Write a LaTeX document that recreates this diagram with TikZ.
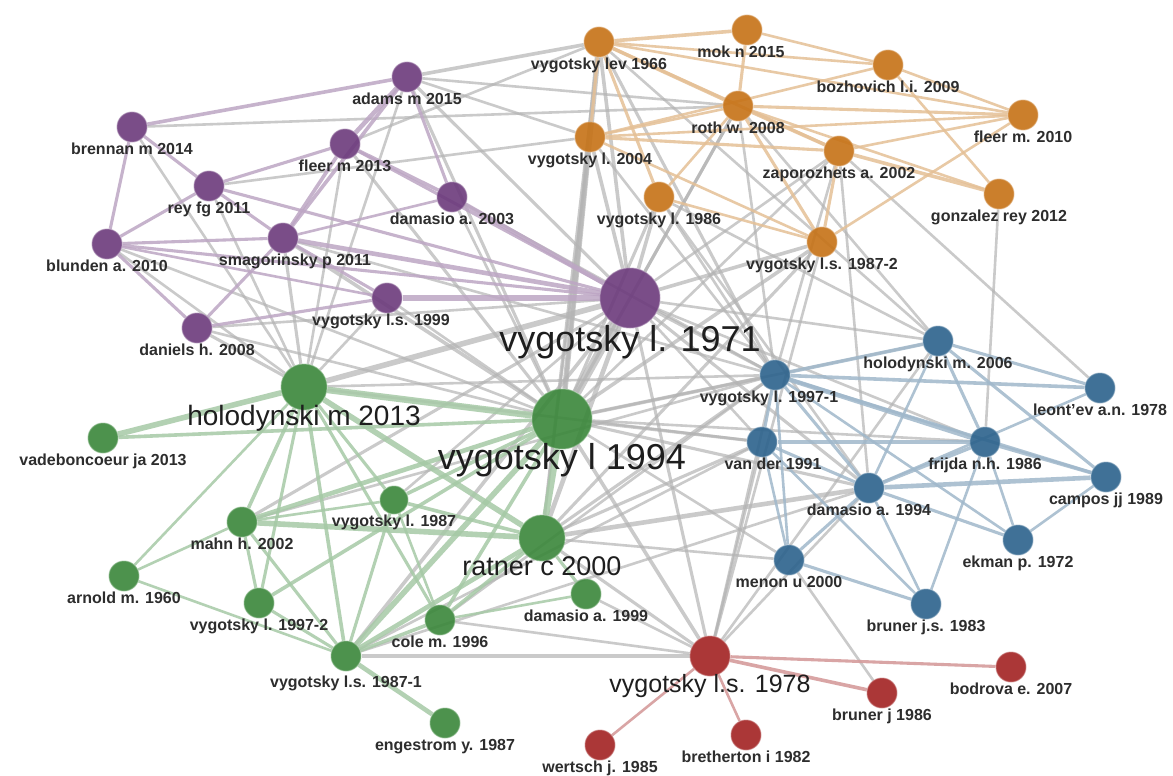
\documentclass[tikz,border=0pt]{standalone}
\usepackage{fontspec}
\setmainfont{Liberation Sans}
\usetikzlibrary{backgrounds}

\definecolor{cpurple}{RGB}{108,58,124}
\definecolor{corange}{RGB}{198,114,22}
\definecolor{cblue}{RGB}{44,98,140}
\definecolor{cgreen}{RGB}{58,135,58}
\definecolor{cred}{RGB}{162,34,34}
\definecolor{edgegrey}{RGB}{180,180,180}
\definecolor{labtext}{RGB}{45,45,45}
\definecolor{bigtext}{RGB}{30,30,30}

\begin{document}
\begin{tikzpicture}[x=1pt, y=-1pt]
  \tikzset{
    cite/.style={circle, inner sep=0pt, minimum size=30pt, fill=#1, fill opacity=.9,
      draw=#1!60!white, draw opacity=.6, line width=1pt},
    lbl/.style={font=\fontsize{16}{16}\selectfont\bfseries, text=labtext, inner sep=0pt,
      text height=11.5pt, text depth=3.5pt, label distance=0pt},
    biglbl/.style={font=\fontsize{#1}{#1}\selectfont, text=bigtext, inner sep=0pt},
    gedge/.style={draw=edgegrey, draw opacity=.7},
    pedge/.style={draw=cpurple!45!white, draw opacity=.85},
    oedge/.style={draw=corange!45!white, draw opacity=.85},
    bedge/.style={draw=cblue!45!white, draw opacity=.85},
    gnedge/.style={draw=cgreen!45!white, draw opacity=.85},
    redge/.style={draw=cred!45!white, draw opacity=.9}
  }
  \useasboundingbox (0,0) rectangle (1173,776);

  % purple cluster
  \node[cite=cpurple, label={[lbl]below:adams m 2015}] (adams) at (407,77) {};
  \node[cite=cpurple, label={[lbl]below:brennan m 2014}] (brennan) at (132,127) {};
  \node[cite=cpurple, label={[lbl]below:fleer m 2013}] (fleerA) at (345,144) {};
  \node[cite=cpurple, label={[lbl]below:rey fg 2011}] (rey) at (209,186) {};
  \node[cite=cpurple, label={[lbl]below:damasio a. 2003}] (damaC) at (452,197) {};
  \node[cite=cpurple, label={[lbl]below:blunden a. 2010}] (blunden) at (107,244) {};
  \node[cite=cpurple, label={[lbl, xshift=12pt]below:smagorinsky p 2011}] (smago) at (283,238) {};
  \node[cite=cpurple, label={[lbl, xshift=-6pt]below:vygotsky l.s. 1999}] (vyLSa) at (387,298) {};
  \node[cite=cpurple, label={[lbl]below:daniels h. 2008}] (daniels) at (197,328) {};
  \node[cite=cpurple, minimum size=60pt, label={[biglbl=36, label distance=-3pt]below:vygotsky l. 1971}] (vy71) at (630,298) {};

  % orange cluster
  \node[cite=corange, label={[lbl]below:vygotsky lev 1966}] (lev66) at (599,42) {};
  \node[cite=corange, label={[lbl, xshift=-6pt]below:mok n 2015}] (mok) at (747,30) {};
  \node[cite=corange, label={[lbl]below:bozhovich l.i. 2009}] (bozho) at (888,65) {};
  \node[cite=corange, label={[lbl]below:roth w. 2008}] (roth) at (738,106) {};
  \node[cite=corange, label={[lbl]below:fleer m. 2010}] (fleerB) at (1023,115) {};
  \node[cite=corange, label={[lbl]below:vygotsky l. 2004}] (vy04) at (590,137) {};
  \node[cite=corange, label={[lbl]below:zaporozhets a. 2002}] (zapo) at (839,151) {};
  \node[cite=corange, label={[lbl]below:vygotsky l. 1986}] (vy86) at (659,197) {};
  \node[cite=corange, label={[lbl]below:gonzalez rey 2012}] (gonzalez) at (999,194) {};
  \node[cite=corange, label={[lbl]below:vygotsky l.s. 1987-2}] (vy87b) at (822,242) {};

  % blue cluster
  \node[cite=cblue, label={[lbl]below:holodynski m. 2006}] (holo06) at (938,341) {};
  \node[cite=cblue, label={[lbl, xshift=-6pt]below:vygotsky l. 1997-1}] (vy97a) at (775,375) {};
  \node[cite=cblue, label={[lbl]below:leont'ev a.n. 1978}] (leont) at (1100,388) {};
  \node[cite=cblue, label={[lbl, xshift=11pt]below:van der 1991}] (vander) at (762,442) {};
  \node[cite=cblue, label={[lbl]below:frijda n.h. 1986}] (frijda) at (985,442) {};
  \node[cite=cblue, label={[lbl]below:campos jj 1989}] (campos) at (1106,477) {};
  \node[cite=cblue, label={[lbl]below:damasio a. 1994}] (dama94) at (869,488) {};
  \node[cite=cblue, label={[lbl]below:ekman p. 1972}] (ekman) at (1018,540) {};
  \node[cite=cblue, label={[lbl]below:menon u 2000}] (menon) at (789,560) {};
  \node[cite=cblue, label={[lbl]below:bruner j.s. 1983}] (brunerJS) at (926,604) {};

  % green cluster
  \node[cite=cgreen, minimum size=46pt, label={[biglbl=28, label distance=-5pt]below:holodynski m 2013}] (holo13) at (304,387) {};
  \node[cite=cgreen, label={[lbl]below:vadeboncoeur ja 2013}] (vade) at (103,438) {};
  \node[cite=cgreen, minimum size=60pt, label={[biglbl=36, label distance=-6pt]below:vygotsky l 1994}] (vy94) at (562,419) {};
  \node[cite=cgreen, minimum size=28pt, label={[lbl]below:vygotsky l. 1987}] (vy87) at (394,500) {};
  \node[cite=cgreen, label={[lbl]below:mahn h. 2002}] (mahn) at (242,522) {};
  \node[cite=cgreen, minimum size=46pt, label={[biglbl=27, label distance=-5pt]below:ratner c 2000}] (ratner) at (542,538) {};
  \node[cite=cgreen, label={[lbl]below:arnold m. 1960}] (arnold) at (124,576) {};
  \node[cite=cgreen, label={[lbl]below:damasio a. 1999}] (dama99) at (586,594) {};
  \node[cite=cgreen, label={[lbl]below:vygotsky l. 1997-2}] (vy97b) at (259,603) {};
  \node[cite=cgreen, label={[lbl]below:cole m. 1996}] (cole) at (440,620) {};
  \node[cite=cgreen, label={[lbl, label distance=4pt]below:vygotsky l.s. 1987-1}] (vy87a) at (346,656) {};
  \node[cite=cgreen, label={[lbl]below:engestrom y. 1987}] (enges) at (445,723) {};

  % red cluster
  \node[cite=cred, minimum size=40pt, label={[biglbl=25, label distance=-2pt]below:vygotsky l.s. 1978}] (vy78) at (710,656) {};
  \node[cite=cred, label={[lbl]below:bodrova e. 2007}] (bodrova) at (1011,667) {};
  \node[cite=cred, label={[lbl]below:bruner j 1986}] (brunerJ) at (882,693) {};
  \node[cite=cred, label={[lbl]below:bretherton i 1982}] (brether) at (746,735) {};
  \node[cite=cred, label={[lbl]below:wertsch j. 1985}] (wertsch) at (600,745) {};

  \begin{scope}[on background layer]
    \fill[white] (0,0) rectangle (1173,776);
    % links between clusters
    \foreach \a/\b/\w in {vy71/vy94/8, vy71/holo13/5, vy71/ratner/4, vy71/lev66/3, vy71/vy04/3,
        vy71/roth/2.5, vy71/vy86/3, vy71/vy87b/3, vy71/vy97a/2.5, vy71/holo06/2, vy71/vander/2,
        vy71/dama94/2.5, vy71/vy78/2.5, vy71/vy87a/3, vy71/mahn/2.5, vy71/daniels/2, vy71/adams/2.5,
        vy71/zapo/2, vy71/frijda/2, vy71/vy87/2,
        vy94/lev66/5, vy94/roth/2.5, vy94/vy97a/3, vy94/vander/2.5, vy94/dama94/2.5, vy94/vy78/3,
        vy94/menon/2, vy94/frijda/2, vy94/smago/3, vy94/vy04/3, vy94/zapo/2, vy94/daniels/2,
        vy94/fleerA/2.5, vy94/adams/2.5, vy94/vy87b/3, vy94/holo06/2, vy94/vy86/2.5, vy94/damaC/2,
        vy94/blunden/2, vy94/vyLSa/2,
        ratner/dama94/4, ratner/vy97a/2.5, ratner/vy78/2.5, ratner/vander/2.5, ratner/lev66/2.5,
        ratner/vy87b/2.5, ratner/menon/2, ratner/vy04/2,
        holo13/vy97a/2, holo13/smago/2.5, holo13/blunden/2, holo13/daniels/2.5, holo13/rey/2,
        holo13/fleerA/2, holo13/adams/2, holo13/vander/2, holo13/brennan/2, holo13/vyLSa/2,
        vy87a/vy78/4, cole/vy78/2, dama99/vy78/2, vy78/holo06/2, vy78/vy97a/2, vy78/vy87b/2,
        vy78/dama94/2, vy78/vander/2,
        holo06/vy86/2, holo06/lev66/2, holo06/roth/2, vy97a/lev66/2.5, vy97a/roth/2, vy97a/zapo/2,
        vy97a/vy86/2, vy97a/vy04/2, frijda/gonzalez/2, leont/zapo/2, dama94/zapo/2, dama94/vy86/2,
        menon/brunerJ/2, fleerA/lev66/2, adams/lev66/3, adams/roth/2, adams/vy04/2, rey/vy04/2,
        brennan/roth/2, smago/vy97a/2, damaC/vy97a/2, mahn/vy97a/2, vy87a/vander/2,
        vy87a/dama94/2, cole/vy97a/2}
      \draw[gedge, line width={(\w+0.6)*1pt}] (\a) -- (\b);
    % purple links
    \foreach \a/\b/\w in {brennan/adams/3, brennan/rey/2.5, brennan/blunden/2.5, adams/fleerA/4,
        adams/smago/3, adams/damaC/2.5, fleerA/rey/2.5, fleerA/smago/3, fleerA/damaC/3,
        fleerA/vy71/2.5, rey/blunden/2.5, rey/smago/2.5, rey/vy71/2.5, blunden/smago/2.5,
        blunden/daniels/2.5, blunden/vy71/2.5, smago/vy71/4, smago/daniels/2.5, smago/damaC/2,
        vyLSa/vy71/5, daniels/vyLSa/2.5, damaC/vy71/4, smago/vyLSa/2.5, blunden/vyLSa/2}
      \draw[pedge, line width={(\w+0.6)*1pt}] (\a) -- (\b);
    % orange links
    \foreach \a/\b/\w in {lev66/mok/3, lev66/roth/3, lev66/vy04/2.5, lev66/vy86/2.5, lev66/zapo/2.5,
        lev66/bozho/2, lev66/fleerB/2, mok/roth/2.5, mok/bozho/2, roth/zapo/3, roth/fleerB/2.5,
        roth/gonzalez/2, roth/vy87b/2.5, roth/vy04/2, bozho/fleerB/2, bozho/gonzalez/2,
        bozho/vy04/2, zapo/fleerB/2, zapo/gonzalez/3, zapo/vy04/2.5, zapo/vy87b/2.5,
        vy04/vy87b/2, vy86/vy87b/2, vy86/roth/2, fleerB/vy87b/2, vy04/fleerB/2}
      \draw[oedge, line width={(\w+0.6)*1pt}] (\a) -- (\b);
    % blue links
    \foreach \a/\b/\w in {holo06/vy97a/3, holo06/leont/2.5, holo06/frijda/2.5, holo06/campos/2.5,
        holo06/dama94/2, vy97a/leont/3, vy97a/frijda/4, vy97a/campos/2.5, vy97a/vander/2.5,
        vy97a/dama94/2.5, vy97a/menon/2, vander/frijda/2.5, vander/dama94/2.5, vander/menon/2,
        vander/brunerJS/2, frijda/campos/3, frijda/dama94/3, frijda/ekman/2, frijda/brunerJS/2,
        leont/dama94/2, dama94/campos/4, dama94/ekman/2.5, dama94/menon/2.5, dama94/brunerJS/2,
        ekman/campos/2, menon/brunerJS/2.5, vy97a/ekman/2}
      \draw[bedge, line width={(\w+0.6)*1pt}] (\a) -- (\b);
    % green links
    \foreach \a/\b/\w in {holo13/vade/5, holo13/vy94/6, holo13/ratner/5, holo13/mahn/3,
        holo13/vy87/2.5, holo13/vy97b/2.5, holo13/vy87a/3, holo13/cole/2.5, holo13/arnold/2,
        vade/vy94/3, vy94/ratner/6, vy94/mahn/4, vy94/vy87/3, vy94/vy97b/3, vy94/vy87a/5,
        vy94/cole/3, ratner/mahn/5, ratner/vy87a/4, ratner/cole/3, ratner/dama99/2.5,
        ratner/vy87/3, mahn/arnold/2, mahn/vy97b/2.5, mahn/vy87a/2.5, vy87/vy87a/2.5,
        vy87/cole/2, arnold/vy87a/2, vy97b/vy87a/2.5, cole/vy87a/3, dama99/cole/2,
        vy87a/enges/4, mahn/vy87/2}
      \draw[gnedge, line width={(\w+0.6)*1pt}] (\a) -- (\b);
    % red links
    \foreach \a/\b/\w in {vy78/bodrova/2.5, vy78/brunerJ/3, vy78/brether/2, vy78/wertsch/2}
      \draw[redge, line width={(\w+0.6)*1pt}] (\a) -- (\b);
  \end{scope}
\end{tikzpicture}
\end{document}
